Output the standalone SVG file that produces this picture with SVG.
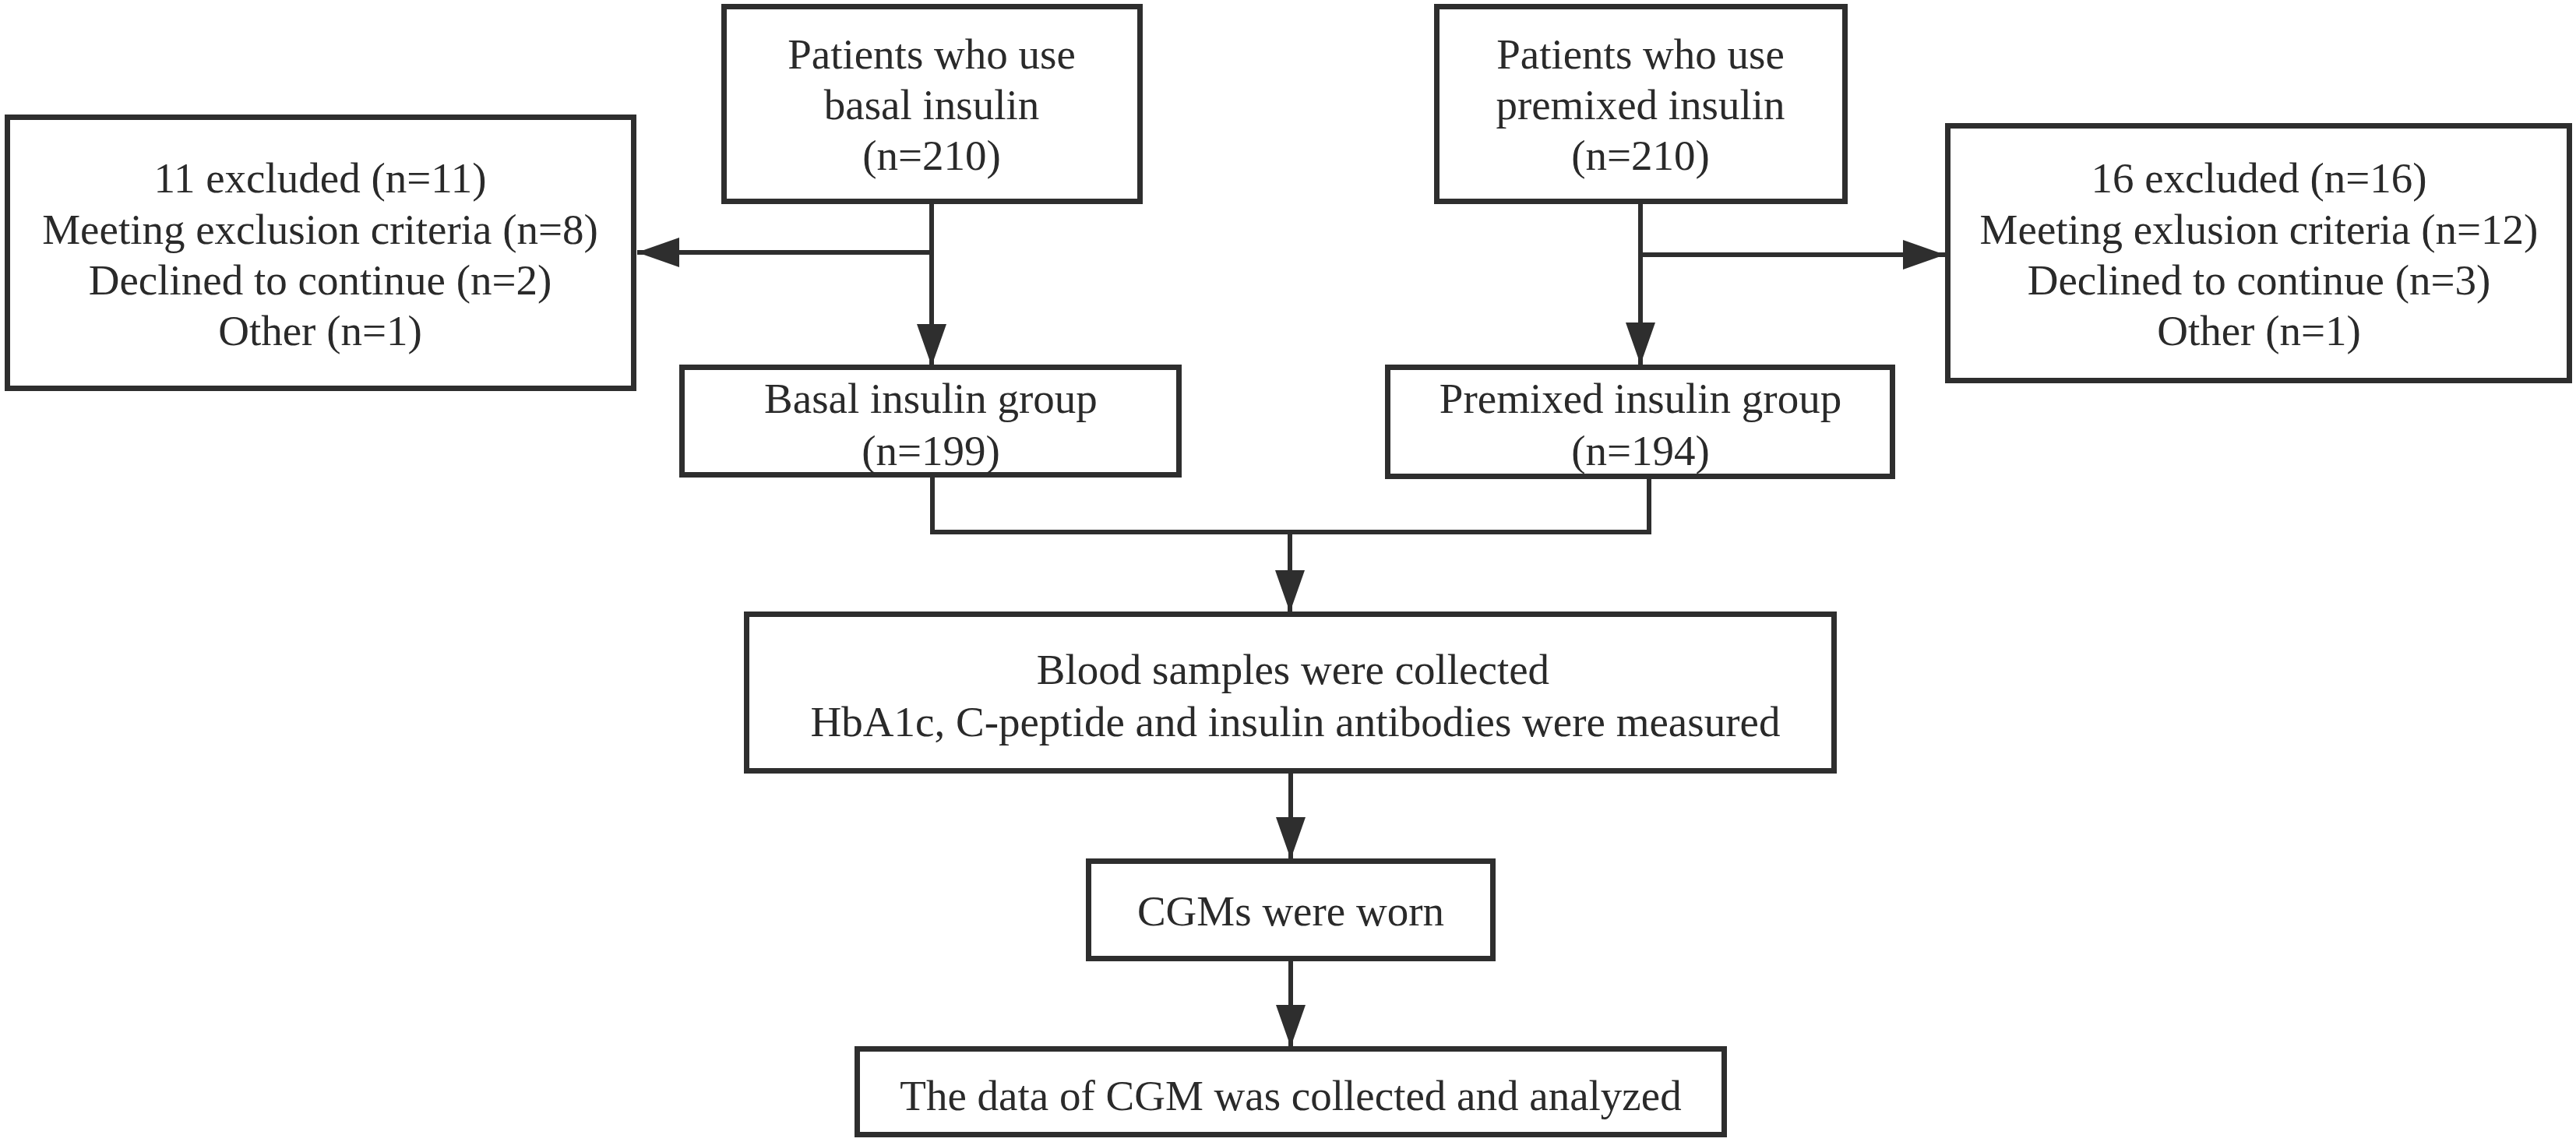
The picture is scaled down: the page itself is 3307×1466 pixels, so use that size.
<svg xmlns="http://www.w3.org/2000/svg" width="3307" height="1466" viewBox="0 0 3307 1466">
<style>
.box{fill:#fff;stroke:#2e2e2e;stroke-width:7}
.t{font-family:"Liberation Serif","Times New Roman",serif;font-size:55px;fill:#2a2a2a;text-anchor:middle}
.c{fill:none;stroke:#2e2e2e;stroke-width:6}
</style>
<defs>
<marker id="ah" markerUnits="userSpaceOnUse" markerWidth="54" markerHeight="38" refX="54" refY="19" orient="auto">
<path d="M0,0 L54,19 L0,38 z" fill="#2e2e2e"/>
</marker>
</defs>
<rect width="3307" height="1466" fill="#fff"/>
<g id="connectors">
<line class="c" x1="1196" y1="262" x2="1196" y2="470" marker-end="url(#ah)"/>
<line class="c" x1="1196" y1="324" x2="818" y2="324" marker-end="url(#ah)"/>
<line class="c" x1="2106" y1="262" x2="2106" y2="468" marker-end="url(#ah)"/>
<line class="c" x1="2106" y1="327" x2="2497" y2="327" marker-end="url(#ah)"/>
<polyline class="c" points="1197,613 1197,683 2117,683 2117,615"/>
<line class="c" x1="1656" y1="683" x2="1656" y2="786" marker-end="url(#ah)"/>
<line class="c" x1="1657" y1="993" x2="1657" y2="1103" marker-end="url(#ah)"/>
<line class="c" x1="1657" y1="1234" x2="1657" y2="1344" marker-end="url(#ah)"/>
</g>
<g id="n_excl_left">
<rect class="box" x="9.5" y="150.5" width="804" height="348"/>
<text class="t" x="411" y="247">11 excluded (n=11)</text>
<text class="t" x="411" y="313">Meeting exclusion criteria (n=8)</text>
<text class="t" x="411" y="378">Declined to continue (n=2)</text>
<text class="t" x="411" y="443">Other (n=1)</text>
</g>
<g id="n_basal_top">
<rect class="box" x="929.5" y="8.5" width="534" height="250"/>
<text class="t" x="1196" y="88">Patients who use</text>
<text class="t" x="1196" y="153">basal insulin</text>
<text class="t" x="1196" y="218">(n=210)</text>
</g>
<g id="n_premixed_top">
<rect class="box" x="1844.5" y="8.5" width="524" height="250"/>
<text class="t" x="2106" y="88">Patients who use</text>
<text class="t" x="2106" y="153">premixed insulin</text>
<text class="t" x="2106" y="218">(n=210)</text>
</g>
<g id="n_excl_right">
<rect class="box" x="2500.5" y="161.5" width="798" height="327"/>
<text class="t" x="2900" y="247">16 excluded (n=16)</text>
<text class="t" x="2900" y="313">Meeting exlusion criteria (n=12)</text>
<text class="t" x="2900" y="378">Declined to continue (n=3)</text>
<text class="t" x="2900" y="443">Other (n=1)</text>
</g>
<g id="n_basal_group">
<rect class="box" x="875.5" y="471.5" width="638" height="138"/>
<text class="t" x="1195" y="530">Basal insulin group</text>
<text class="t" x="1195" y="597">(n=199)</text>
</g>
<g id="n_premixed_group">
<rect class="box" x="1781.5" y="471.5" width="648" height="140"/>
<text class="t" x="2106" y="530">Premixed insulin group</text>
<text class="t" x="2106" y="597">(n=194)</text>
</g>
<g id="n_blood">
<rect class="box" x="958.5" y="788.5" width="1396" height="201"/>
<text class="t" x="1660" y="878">Blood samples were collected</text>
<text class="t" x="1663" y="945">HbA1c, C-peptide and insulin antibodies were measured</text>
</g>
<g id="n_cgm">
<rect class="box" x="1397.5" y="1105.5" width="519" height="125"/>
<text class="t" x="1657" y="1188">CGMs were worn</text>
</g>
<g id="n_data">
<rect class="box" x="1100.5" y="1346.5" width="1113" height="110"/>
<text class="t" x="1657" y="1425">The data of CGM was collected and analyzed</text>
</g>
</svg>
